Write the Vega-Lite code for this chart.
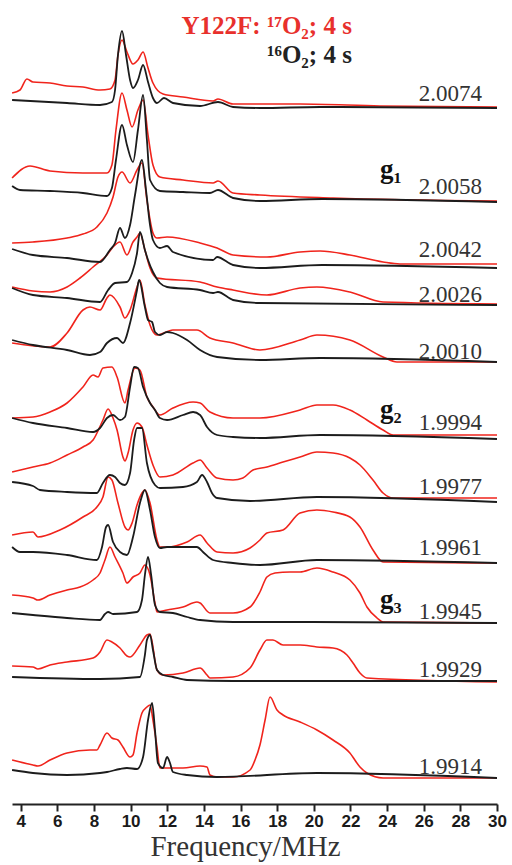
{
"$schema": "https://vega.github.io/schema/vega-lite/v6.json",
"width": 485, "height": 804,
"autosize": {"type": "none"},
"padding": {"left": 12, "top": 0, "right": 15, "bottom": 61},
"background": "white",
"config": {"view": {"stroke": null},
"axisX": {"grid": false, "domainColor": "#222", "domainWidth": 2, "tickColor": "#222", "tickWidth": 2, "tickSize": 7, "labelFont": "Liberation Sans", "labelFontSize": 17, "labelFontWeight": "bold", "labelColor": "#1a1a1a", "labelPadding": 2, "labelFlush": false, "labelOverlap": false, "labelBound": false, "titleFont": "Liberation Serif", "titleFontSize": 29, "titleFontWeight": "normal", "titleColor": "#333", "titlePadding": 3, "titleX": 233, "titleAnchor": "start", "titleAlign": "center"}},
"datasets": {
"red": [
{"s":"2.0074","x":3.53,"y":711},{"s":"2.0074","x":3.96,"y":714},{"s":"2.0074","x":4.34,"y":725},{"s":"2.0074","x":4.67,"y":722},{"s":"2.0074","x":5.6,"y":721},{"s":"2.0074","x":6.53,"y":718},{"s":"2.0074","x":7.4,"y":717},{"s":"2.0074","x":8.33,"y":714},{"s":"2.0074","x":8.87,"y":715},{"s":"2.0074","x":9.15,"y":724},{"s":"2.0074","x":9.31,"y":749},{"s":"2.0074","x":9.53,"y":764},{"s":"2.0074","x":9.8,"y":752},{"s":"2.0074","x":10.13,"y":740},{"s":"2.0074","x":10.4,"y":744},{"s":"2.0074","x":10.68,"y":752},{"s":"2.0074","x":10.95,"y":736},{"s":"2.0074","x":11.22,"y":721},{"s":"2.0074","x":11.77,"y":710},{"s":"2.0074","x":12.86,"y":707},{"s":"2.0074","x":14.5,"y":703},{"s":"2.0074","x":14.77,"y":705},{"s":"2.0074","x":15.59,"y":700},{"s":"2.0074","x":19.25,"y":700},{"s":"2.0074","x":23.61,"y":698},{"s":"2.0074","x":30,"y":697},
{"s":"2.0058","x":3.53,"y":626},{"s":"2.0058","x":4.51,"y":638},{"s":"2.0058","x":5.6,"y":633},{"s":"2.0058","x":7.4,"y":631},{"s":"2.0058","x":8.71,"y":631},{"s":"2.0058","x":8.98,"y":639},{"s":"2.0058","x":9.2,"y":674},{"s":"2.0058","x":9.53,"y":711},{"s":"2.0058","x":9.8,"y":694},{"s":"2.0058","x":10.08,"y":677},{"s":"2.0058","x":10.4,"y":694},{"s":"2.0058","x":10.68,"y":704},{"s":"2.0058","x":10.95,"y":669},{"s":"2.0058","x":11.22,"y":639},{"s":"2.0058","x":11.6,"y":627},{"s":"2.0058","x":12.86,"y":624},{"s":"2.0058","x":14.5,"y":621},{"s":"2.0058","x":14.77,"y":623},{"s":"2.0058","x":15.59,"y":611},{"s":"2.0058","x":17.06,"y":609},{"s":"2.0058","x":21.05,"y":606},{"s":"2.0058","x":30,"y":603},
{"s":"2.0042","x":3.53,"y":561},{"s":"2.0042","x":4.67,"y":562},{"s":"2.0042","x":6.53,"y":566},{"s":"2.0042","x":7.4,"y":570},{"s":"2.0042","x":8.16,"y":577},{"s":"2.0042","x":8.71,"y":591},{"s":"2.0042","x":9.04,"y":607},{"s":"2.0042","x":9.31,"y":627},{"s":"2.0042","x":9.53,"y":632},{"s":"2.0042","x":9.97,"y":621},{"s":"2.0042","x":10.35,"y":634},{"s":"2.0042","x":10.62,"y":641},{"s":"2.0042","x":10.89,"y":604},{"s":"2.0042","x":11.22,"y":571},{"s":"2.0042","x":11.44,"y":566},{"s":"2.0042","x":11.99,"y":567},{"s":"2.0042","x":13.79,"y":561},{"s":"2.0042","x":14.72,"y":556},{"s":"2.0042","x":15.59,"y":549},{"s":"2.0042","x":17.44,"y":547},{"s":"2.0042","x":19.25,"y":552},{"s":"2.0042","x":20.34,"y":553},{"s":"2.0042","x":21.97,"y":549},{"s":"2.0042","x":23.78,"y":542},{"s":"2.0042","x":24.7,"y":540},{"s":"2.0042","x":30,"y":540},
{"s":"2.0026","x":3.53,"y":517},{"s":"2.0026","x":4.67,"y":513},{"s":"2.0026","x":5.6,"y":512},{"s":"2.0026","x":6.53,"y":517},{"s":"2.0026","x":7.24,"y":526},{"s":"2.0026","x":7.95,"y":537},{"s":"2.0026","x":8.71,"y":549},{"s":"2.0026","x":9.04,"y":557},{"s":"2.0026","x":9.42,"y":562},{"s":"2.0026","x":9.8,"y":549},{"s":"2.0026","x":10.13,"y":562},{"s":"2.0026","x":10.35,"y":567},{"s":"2.0026","x":10.51,"y":571},{"s":"2.0026","x":10.78,"y":554},{"s":"2.0026","x":11.06,"y":536},{"s":"2.0026","x":11.44,"y":526},{"s":"2.0026","x":13.79,"y":522},{"s":"2.0026","x":14.72,"y":517},{"s":"2.0026","x":15.59,"y":514},{"s":"2.0026","x":17.44,"y":509},{"s":"2.0026","x":19.25,"y":516},{"s":"2.0026","x":20.17,"y":517},{"s":"2.0026","x":21.97,"y":512},{"s":"2.0026","x":23.78,"y":502},{"s":"2.0026","x":30,"y":500},
{"s":"2.0010","x":3.53,"y":461},{"s":"2.0010","x":5.6,"y":457},{"s":"2.0010","x":6.53,"y":471},{"s":"2.0010","x":7.4,"y":494},{"s":"2.0010","x":7.78,"y":497},{"s":"2.0010","x":8.33,"y":494},{"s":"2.0010","x":8.71,"y":506},{"s":"2.0010","x":8.87,"y":509},{"s":"2.0010","x":9.42,"y":497},{"s":"2.0010","x":9.69,"y":486},{"s":"2.0010","x":9.97,"y":494},{"s":"2.0010","x":10.35,"y":517},{"s":"2.0010","x":10.51,"y":524},{"s":"2.0010","x":10.78,"y":499},{"s":"2.0010","x":11.06,"y":479},{"s":"2.0010","x":11.44,"y":469},{"s":"2.0010","x":12.31,"y":474},{"s":"2.0010","x":13.62,"y":474},{"s":"2.0010","x":14.33,"y":466},{"s":"2.0010","x":15.59,"y":461},{"s":"2.0010","x":17.06,"y":454},{"s":"2.0010","x":19.25,"y":464},{"s":"2.0010","x":20.17,"y":469},{"s":"2.0010","x":21.97,"y":464},{"s":"2.0010","x":23.78,"y":447},{"s":"2.0010","x":24.54,"y":442},{"s":"2.0010","x":30,"y":442},
{"s":"1.9994","x":3.53,"y":386},{"s":"1.9994","x":4.67,"y":387},{"s":"1.9994","x":5.6,"y":392},{"s":"1.9994","x":6.53,"y":401},{"s":"1.9994","x":7.4,"y":417},{"s":"1.9994","x":7.95,"y":429},{"s":"1.9994","x":8.22,"y":427},{"s":"1.9994","x":8.49,"y":436},{"s":"1.9994","x":8.98,"y":437},{"s":"1.9994","x":9.26,"y":427},{"s":"1.9994","x":9.69,"y":401},{"s":"1.9994","x":9.86,"y":414},{"s":"1.9994","x":10.24,"y":436},{"s":"1.9994","x":10.51,"y":434},{"s":"1.9994","x":10.89,"y":407},{"s":"1.9994","x":11.22,"y":397},{"s":"1.9994","x":11.6,"y":389},{"s":"1.9994","x":12.31,"y":396},{"s":"1.9994","x":13.41,"y":402},{"s":"1.9994","x":13.79,"y":401},{"s":"1.9994","x":14.33,"y":392},{"s":"1.9994","x":15.59,"y":386},{"s":"1.9994","x":17.06,"y":386},{"s":"1.9994","x":19.25,"y":394},{"s":"1.9994","x":20.17,"y":399},{"s":"1.9994","x":21.05,"y":399},{"s":"1.9994","x":21.97,"y":394},{"s":"1.9994","x":22.9,"y":384},{"s":"1.9994","x":23.78,"y":374},{"s":"1.9994","x":24.33,"y":369},{"s":"1.9994","x":30,"y":369},
{"s":"1.9977","x":3.53,"y":332},{"s":"1.9977","x":4.67,"y":337},{"s":"1.9977","x":5.6,"y":341},{"s":"1.9977","x":6.53,"y":349},{"s":"1.9977","x":7.4,"y":357},{"s":"1.9977","x":7.95,"y":364},{"s":"1.9977","x":8.49,"y":384},{"s":"1.9977","x":8.77,"y":395},{"s":"1.9977","x":9.04,"y":386},{"s":"1.9977","x":9.26,"y":374},{"s":"1.9977","x":9.58,"y":347},{"s":"1.9977","x":9.69,"y":343},{"s":"1.9977","x":9.86,"y":351},{"s":"1.9977","x":10.13,"y":374},{"s":"1.9977","x":10.35,"y":381},{"s":"1.9977","x":10.62,"y":377},{"s":"1.9977","x":10.89,"y":359},{"s":"1.9977","x":11.22,"y":339},{"s":"1.9977","x":11.6,"y":327},{"s":"1.9977","x":12.31,"y":329},{"s":"1.9977","x":13.41,"y":341},{"s":"1.9977","x":13.79,"y":344},{"s":"1.9977","x":14.17,"y":336},{"s":"1.9977","x":14.72,"y":326},{"s":"1.9977","x":15.59,"y":324},{"s":"1.9977","x":16.13,"y":326},{"s":"1.9977","x":16.68,"y":334},{"s":"1.9977","x":17.44,"y":337},{"s":"1.9977","x":18.32,"y":342},{"s":"1.9977","x":19.25,"y":347},{"s":"1.9977","x":20.17,"y":352},{"s":"1.9977","x":21.05,"y":351},{"s":"1.9977","x":21.97,"y":346},{"s":"1.9977","x":22.52,"y":339},{"s":"1.9977","x":23.23,"y":324},{"s":"1.9977","x":23.78,"y":311},{"s":"1.9977","x":24.33,"y":306},{"s":"1.9977","x":30,"y":306},
{"s":"1.9961","x":3.53,"y":269},{"s":"1.9961","x":4.67,"y":272},{"s":"1.9961","x":4.94,"y":267},{"s":"1.9961","x":6.14,"y":274},{"s":"1.9961","x":7.4,"y":287},{"s":"1.9961","x":8.16,"y":297},{"s":"1.9961","x":8.49,"y":307},{"s":"1.9961","x":8.77,"y":327},{"s":"1.9961","x":8.98,"y":324},{"s":"1.9961","x":9.31,"y":301},{"s":"1.9961","x":9.69,"y":277},{"s":"1.9961","x":9.86,"y":274},{"s":"1.9961","x":10.08,"y":281},{"s":"1.9961","x":10.35,"y":299},{"s":"1.9961","x":10.62,"y":311},{"s":"1.9961","x":10.78,"y":314},{"s":"1.9961","x":11.06,"y":301},{"s":"1.9961","x":11.44,"y":264},{"s":"1.9961","x":11.6,"y":257},{"s":"1.9961","x":11.99,"y":257},{"s":"1.9961","x":13.08,"y":262},{"s":"1.9961","x":13.79,"y":269},{"s":"1.9961","x":14.17,"y":261},{"s":"1.9961","x":14.72,"y":252},{"s":"1.9961","x":15.59,"y":251},{"s":"1.9961","x":16.52,"y":256},{"s":"1.9961","x":17.06,"y":264},{"s":"1.9961","x":17.44,"y":271},{"s":"1.9961","x":18.32,"y":274},{"s":"1.9961","x":19.25,"y":291},{"s":"1.9961","x":20.17,"y":294},{"s":"1.9961","x":21.05,"y":292},{"s":"1.9961","x":21.97,"y":287},{"s":"1.9961","x":22.52,"y":277},{"s":"1.9961","x":23.23,"y":254},{"s":"1.9961","x":23.78,"y":242},{"s":"1.9961","x":30,"y":241},
{"s":"1.9945","x":3.53,"y":209},{"s":"1.9945","x":4.67,"y":206},{"s":"1.9945","x":4.94,"y":204},{"s":"1.9945","x":5.6,"y":209},{"s":"1.9945","x":6.53,"y":214},{"s":"1.9945","x":7.24,"y":217},{"s":"1.9945","x":7.95,"y":224},{"s":"1.9945","x":8.33,"y":231},{"s":"1.9945","x":8.6,"y":244},{"s":"1.9945","x":8.87,"y":257},{"s":"1.9945","x":9.15,"y":247},{"s":"1.9945","x":9.58,"y":231},{"s":"1.9945","x":9.8,"y":221},{"s":"1.9945","x":10.13,"y":227},{"s":"1.9945","x":10.51,"y":231},{"s":"1.9945","x":10.78,"y":239},{"s":"1.9945","x":11.06,"y":229},{"s":"1.9945","x":11.33,"y":201},{"s":"1.9945","x":11.44,"y":192},{"s":"1.9945","x":11.99,"y":194},{"s":"1.9945","x":12.86,"y":197},{"s":"1.9945","x":13.62,"y":202},{"s":"1.9945","x":13.79,"y":201},{"s":"1.9945","x":14.33,"y":191},{"s":"1.9945","x":15.59,"y":191},{"s":"1.9945","x":16.52,"y":197},{"s":"1.9945","x":17.06,"y":212},{"s":"1.9945","x":17.44,"y":227},{"s":"1.9945","x":17.88,"y":231},{"s":"1.9945","x":18.7,"y":232},{"s":"1.9945","x":19.25,"y":232},{"s":"1.9945","x":20.17,"y":236},{"s":"1.9945","x":21.05,"y":232},{"s":"1.9945","x":21.97,"y":224},{"s":"1.9945","x":22.52,"y":211},{"s":"1.9945","x":22.9,"y":197},{"s":"1.9945","x":23.45,"y":186},{"s":"1.9945","x":23.78,"y":182},{"s":"1.9945","x":30,"y":181},
{"s":"1.9929","x":3.53,"y":138},{"s":"1.9929","x":4.67,"y":137},{"s":"1.9929","x":4.94,"y":135},{"s":"1.9929","x":5.6,"y":139},{"s":"1.9929","x":6.53,"y":142},{"s":"1.9929","x":7.95,"y":146},{"s":"1.9929","x":8.33,"y":152},{"s":"1.9929","x":8.71,"y":164},{"s":"1.9929","x":8.98,"y":162},{"s":"1.9929","x":9.42,"y":156},{"s":"1.9929","x":9.8,"y":148},{"s":"1.9929","x":9.97,"y":147},{"s":"1.9929","x":10.51,"y":159},{"s":"1.9929","x":10.89,"y":169},{"s":"1.9929","x":11.06,"y":170},{"s":"1.9929","x":11.44,"y":134},{"s":"1.9929","x":11.77,"y":129},{"s":"1.9929","x":12.86,"y":131},{"s":"1.9929","x":13.79,"y":136},{"s":"1.9929","x":14.17,"y":129},{"s":"1.9929","x":14.33,"y":126},{"s":"1.9929","x":15.59,"y":127},{"s":"1.9929","x":16.52,"y":136},{"s":"1.9929","x":17.06,"y":154},{"s":"1.9929","x":17.44,"y":164},{"s":"1.9929","x":17.77,"y":164},{"s":"1.9929","x":18.32,"y":159},{"s":"1.9929","x":19.25,"y":159},{"s":"1.9929","x":20.17,"y":157},{"s":"1.9929","x":21.05,"y":156},{"s":"1.9929","x":21.81,"y":149},{"s":"1.9929","x":22.14,"y":141},{"s":"1.9929","x":22.52,"y":131},{"s":"1.9929","x":22.9,"y":126},{"s":"1.9929","x":30,"y":122},
{"s":"1.9914","x":3.53,"y":44},{"s":"1.9914","x":4.67,"y":39},{"s":"1.9914","x":4.94,"y":38},{"s":"1.9914","x":5.6,"y":44},{"s":"1.9914","x":6.53,"y":51},{"s":"1.9914","x":7.78,"y":54},{"s":"1.9914","x":8.16,"y":54},{"s":"1.9914","x":8.33,"y":59},{"s":"1.9914","x":8.71,"y":71},{"s":"1.9914","x":8.98,"y":66},{"s":"1.9914","x":9.31,"y":64},{"s":"1.9914","x":9.58,"y":57},{"s":"1.9914","x":9.97,"y":47},{"s":"1.9914","x":10.13,"y":49},{"s":"1.9914","x":10.35,"y":71},{"s":"1.9914","x":10.62,"y":91},{"s":"1.9914","x":10.89,"y":97},{"s":"1.9914","x":11.06,"y":99},{"s":"1.9914","x":11.22,"y":84},{"s":"1.9914","x":11.44,"y":57},{"s":"1.9914","x":11.6,"y":36},{"s":"1.9914","x":12.86,"y":36},{"s":"1.9914","x":13.79,"y":38},{"s":"1.9914","x":14.17,"y":37},{"s":"1.9914","x":14.33,"y":29},{"s":"1.9914","x":14.72,"y":27},{"s":"1.9914","x":15.59,"y":27},{"s":"1.9914","x":16.52,"y":34},{"s":"1.9914","x":16.79,"y":44},{"s":"1.9914","x":17.06,"y":59},{"s":"1.9914","x":17.34,"y":84},{"s":"1.9914","x":17.61,"y":107},{"s":"1.9914","x":17.99,"y":94},{"s":"1.9914","x":18.32,"y":89},{"s":"1.9914","x":19.25,"y":82},{"s":"1.9914","x":20.17,"y":74},{"s":"1.9914","x":21.05,"y":64},{"s":"1.9914","x":21.97,"y":51},{"s":"1.9914","x":22.52,"y":37},{"s":"1.9914","x":22.9,"y":31},{"s":"1.9914","x":23.78,"y":26},{"s":"1.9914","x":30,"y":26}
],
"black": [
{"s":"2.0074","x":3.53,"y":704},{"s":"2.0074","x":6.53,"y":701},{"s":"2.0074","x":8.33,"y":699},{"s":"2.0074","x":8.98,"y":702},{"s":"2.0074","x":9.15,"y":714},{"s":"2.0074","x":9.31,"y":749},{"s":"2.0074","x":9.53,"y":773},{"s":"2.0074","x":9.75,"y":749},{"s":"2.0074","x":9.97,"y":724},{"s":"2.0074","x":10.13,"y":716},{"s":"2.0074","x":10.4,"y":724},{"s":"2.0074","x":10.68,"y":739},{"s":"2.0074","x":10.95,"y":722},{"s":"2.0074","x":11.22,"y":706},{"s":"2.0074","x":11.44,"y":701},{"s":"2.0074","x":11.82,"y":706},{"s":"2.0074","x":12.31,"y":701},{"s":"2.0074","x":13.79,"y":698},{"s":"2.0074","x":14.77,"y":702},{"s":"2.0074","x":15.59,"y":697},{"s":"2.0074","x":17.06,"y":696},{"s":"2.0074","x":20.34,"y":697},{"s":"2.0074","x":30,"y":696},
{"s":"2.0058","x":3.53,"y":618},{"s":"2.0058","x":3.96,"y":614},{"s":"2.0058","x":5.6,"y":613},{"s":"2.0058","x":7.4,"y":611},{"s":"2.0058","x":8.71,"y":608},{"s":"2.0058","x":8.98,"y":616},{"s":"2.0058","x":9.2,"y":644},{"s":"2.0058","x":9.53,"y":679},{"s":"2.0058","x":9.8,"y":659},{"s":"2.0058","x":10.13,"y":642},{"s":"2.0058","x":10.4,"y":674},{"s":"2.0058","x":10.68,"y":709},{"s":"2.0058","x":10.89,"y":664},{"s":"2.0058","x":11.06,"y":624},{"s":"2.0058","x":11.6,"y":613},{"s":"2.0058","x":12.86,"y":612},{"s":"2.0058","x":14.33,"y":611},{"s":"2.0058","x":14.77,"y":614},{"s":"2.0058","x":15.59,"y":606},{"s":"2.0058","x":17.06,"y":603},{"s":"2.0058","x":20.45,"y":605},{"s":"2.0058","x":30,"y":602},
{"s":"2.0042","x":3.53,"y":555},{"s":"2.0042","x":4.67,"y":549},{"s":"2.0042","x":6.53,"y":546},{"s":"2.0042","x":8.33,"y":542},{"s":"2.0042","x":8.87,"y":554},{"s":"2.0042","x":9.15,"y":561},{"s":"2.0042","x":9.42,"y":576},{"s":"2.0042","x":9.69,"y":566},{"s":"2.0042","x":9.97,"y":579},{"s":"2.0042","x":10.24,"y":609},{"s":"2.0042","x":10.62,"y":644},{"s":"2.0042","x":10.84,"y":614},{"s":"2.0042","x":11.06,"y":579},{"s":"2.0042","x":11.22,"y":564},{"s":"2.0042","x":11.6,"y":556},{"s":"2.0042","x":11.99,"y":558},{"s":"2.0042","x":12.31,"y":552},{"s":"2.0042","x":14.5,"y":544},{"s":"2.0042","x":14.72,"y":547},{"s":"2.0042","x":15.59,"y":539},{"s":"2.0042","x":17.06,"y":536},{"s":"2.0042","x":20.45,"y":539},{"s":"2.0042","x":30,"y":536},
{"s":"2.0026","x":3.53,"y":516},{"s":"2.0026","x":4.67,"y":509},{"s":"2.0026","x":6.53,"y":506},{"s":"2.0026","x":8.33,"y":502},{"s":"2.0026","x":8.77,"y":514},{"s":"2.0026","x":9.15,"y":521},{"s":"2.0026","x":9.8,"y":522},{"s":"2.0026","x":10.08,"y":531},{"s":"2.0026","x":10.35,"y":551},{"s":"2.0026","x":10.51,"y":572},{"s":"2.0026","x":10.78,"y":554},{"s":"2.0026","x":10.95,"y":544},{"s":"2.0026","x":11.22,"y":532},{"s":"2.0026","x":11.6,"y":521},{"s":"2.0026","x":11.99,"y":517},{"s":"2.0026","x":13.79,"y":514},{"s":"2.0026","x":14.5,"y":511},{"s":"2.0026","x":14.77,"y":512},{"s":"2.0026","x":15.59,"y":504},{"s":"2.0026","x":17.06,"y":501},{"s":"2.0026","x":30,"y":499},
{"s":"2.0010","x":3.53,"y":464},{"s":"2.0010","x":4.67,"y":459},{"s":"2.0010","x":6.53,"y":454},{"s":"2.0010","x":7.78,"y":449},{"s":"2.0010","x":8.33,"y":452},{"s":"2.0010","x":8.71,"y":461},{"s":"2.0010","x":9.26,"y":466},{"s":"2.0010","x":9.58,"y":461},{"s":"2.0010","x":9.97,"y":481},{"s":"2.0010","x":10.35,"y":514},{"s":"2.0010","x":10.46,"y":524},{"s":"2.0010","x":10.78,"y":497},{"s":"2.0010","x":10.95,"y":484},{"s":"2.0010","x":11.17,"y":482},{"s":"2.0010","x":11.33,"y":472},{"s":"2.0010","x":11.6,"y":469},{"s":"2.0010","x":11.99,"y":472},{"s":"2.0010","x":12.31,"y":471},{"s":"2.0010","x":13.08,"y":464},{"s":"2.0010","x":13.79,"y":454},{"s":"2.0010","x":14.72,"y":447},{"s":"2.0010","x":17.06,"y":444},{"s":"2.0010","x":20.34,"y":446},{"s":"2.0010","x":30,"y":442},
{"s":"1.9994","x":3.53,"y":386},{"s":"1.9994","x":4.67,"y":381},{"s":"1.9994","x":6.53,"y":376},{"s":"1.9994","x":7.95,"y":372},{"s":"1.9994","x":8.33,"y":376},{"s":"1.9994","x":8.71,"y":386},{"s":"1.9994","x":9.04,"y":389},{"s":"1.9994","x":9.42,"y":384},{"s":"1.9994","x":9.69,"y":387},{"s":"1.9994","x":9.97,"y":417},{"s":"1.9994","x":10.19,"y":437},{"s":"1.9994","x":10.4,"y":436},{"s":"1.9994","x":10.68,"y":417},{"s":"1.9994","x":11.06,"y":401},{"s":"1.9994","x":11.33,"y":394},{"s":"1.9994","x":11.6,"y":386},{"s":"1.9994","x":11.99,"y":384},{"s":"1.9994","x":12.86,"y":389},{"s":"1.9994","x":13.41,"y":392},{"s":"1.9994","x":13.79,"y":389},{"s":"1.9994","x":14.17,"y":377},{"s":"1.9994","x":14.72,"y":369},{"s":"1.9994","x":15.59,"y":367},{"s":"1.9994","x":17.06,"y":366},{"s":"1.9994","x":20.34,"y":369},{"s":"1.9994","x":30,"y":365},
{"s":"1.9977","x":3.53,"y":322},{"s":"1.9977","x":4.67,"y":318},{"s":"1.9977","x":5.05,"y":314},{"s":"1.9977","x":6.53,"y":312},{"s":"1.9977","x":8.16,"y":311},{"s":"1.9977","x":8.49,"y":321},{"s":"1.9977","x":8.87,"y":329},{"s":"1.9977","x":9.15,"y":327},{"s":"1.9977","x":9.42,"y":321},{"s":"1.9977","x":9.69,"y":319},{"s":"1.9977","x":9.97,"y":331},{"s":"1.9977","x":10.19,"y":364},{"s":"1.9977","x":10.35,"y":376},{"s":"1.9977","x":10.62,"y":376},{"s":"1.9977","x":10.89,"y":341},{"s":"1.9977","x":11.33,"y":319},{"s":"1.9977","x":11.6,"y":316},{"s":"1.9977","x":12.86,"y":317},{"s":"1.9977","x":13.62,"y":322},{"s":"1.9977","x":13.9,"y":329},{"s":"1.9977","x":14.17,"y":322},{"s":"1.9977","x":14.44,"y":311},{"s":"1.9977","x":14.72,"y":306},{"s":"1.9977","x":16.52,"y":303},{"s":"1.9977","x":20.17,"y":307},{"s":"1.9977","x":30,"y":302},
{"s":"1.9961","x":3.53,"y":257},{"s":"1.9961","x":3.96,"y":252},{"s":"1.9961","x":4.67,"y":252},{"s":"1.9961","x":6.53,"y":249},{"s":"1.9961","x":8.16,"y":244},{"s":"1.9961","x":8.44,"y":257},{"s":"1.9961","x":8.66,"y":277},{"s":"1.9961","x":8.77,"y":279},{"s":"1.9961","x":9.04,"y":262},{"s":"1.9961","x":9.42,"y":252},{"s":"1.9961","x":9.8,"y":249},{"s":"1.9961","x":10.13,"y":267},{"s":"1.9961","x":10.51,"y":301},{"s":"1.9961","x":10.78,"y":314},{"s":"1.9961","x":11.06,"y":294},{"s":"1.9961","x":11.33,"y":267},{"s":"1.9961","x":11.6,"y":256},{"s":"1.9961","x":11.99,"y":257},{"s":"1.9961","x":13.62,"y":257},{"s":"1.9961","x":13.95,"y":252},{"s":"1.9961","x":14.5,"y":244},{"s":"1.9961","x":15.59,"y":241},{"s":"1.9961","x":17.06,"y":239},{"s":"1.9961","x":20.17,"y":244},{"s":"1.9961","x":30,"y":241},
{"s":"1.9945","x":3.53,"y":191},{"s":"1.9945","x":4.67,"y":189},{"s":"1.9945","x":6.53,"y":186},{"s":"1.9945","x":8.33,"y":184},{"s":"1.9945","x":8.6,"y":190},{"s":"1.9945","x":8.77,"y":192},{"s":"1.9945","x":9.04,"y":190},{"s":"1.9945","x":10.35,"y":192},{"s":"1.9945","x":10.62,"y":204},{"s":"1.9945","x":10.78,"y":229},{"s":"1.9945","x":10.95,"y":247},{"s":"1.9945","x":11.12,"y":229},{"s":"1.9945","x":11.33,"y":199},{"s":"1.9945","x":11.6,"y":192},{"s":"1.9945","x":12.31,"y":191},{"s":"1.9945","x":13.08,"y":187},{"s":"1.9945","x":13.79,"y":184},{"s":"1.9945","x":15.59,"y":182},{"s":"1.9945","x":19.96,"y":182},{"s":"1.9945","x":30,"y":181},
{"s":"1.9929","x":3.53,"y":127},{"s":"1.9929","x":8.33,"y":125},{"s":"1.9929","x":10.51,"y":127},{"s":"1.9929","x":10.78,"y":149},{"s":"1.9929","x":10.89,"y":164},{"s":"1.9929","x":11.06,"y":169},{"s":"1.9929","x":11.22,"y":154},{"s":"1.9929","x":11.44,"y":134},{"s":"1.9929","x":11.77,"y":129},{"s":"1.9929","x":12.31,"y":127},{"s":"1.9929","x":13.08,"y":124},{"s":"1.9929","x":15.59,"y":123},{"s":"1.9929","x":30,"y":123},
{"s":"1.9914","x":3.53,"y":34},{"s":"1.9914","x":4.67,"y":31},{"s":"1.9914","x":6.53,"y":29},{"s":"1.9914","x":8.33,"y":31},{"s":"1.9914","x":8.71,"y":32},{"s":"1.9914","x":9.42,"y":35},{"s":"1.9914","x":9.8,"y":36},{"s":"1.9914","x":10.35,"y":35},{"s":"1.9914","x":10.68,"y":47},{"s":"1.9914","x":10.95,"y":84},{"s":"1.9914","x":11.17,"y":101},{"s":"1.9914","x":11.33,"y":74},{"s":"1.9914","x":11.49,"y":41},{"s":"1.9914","x":11.77,"y":36},{"s":"1.9914","x":11.99,"y":47},{"s":"1.9914","x":12.15,"y":41},{"s":"1.9914","x":12.31,"y":32},{"s":"1.9914","x":13.08,"y":29},{"s":"1.9914","x":14.72,"y":27},{"s":"1.9914","x":20.17,"y":31},{"s":"1.9914","x":30,"y":26}
],
"labels": [
{"t":"2.0074","x":29.18,"y":710},{"t":"2.0058","x":29.18,"y":617},{"t":"2.0042","x":29.18,"y":554},{"t":"2.0026","x":29.18,"y":509},{"t":"2.0010","x":29.18,"y":452},{"t":"1.9994","x":29.18,"y":381},{"t":"1.9977","x":29.18,"y":317},{"t":"1.9961","x":29.18,"y":256},{"t":"1.9945","x":29.18,"y":192},{"t":"1.9929","x":29.18,"y":134},{"t":"1.9914","x":29.18,"y":37}
],
"glabels": [
{"t":"g₁","x":23.61,"y":634},{"t":"g₂","x":23.61,"y":394},{"t":"g₃","x":23.61,"y":204}
],
"titles": [
{"t":"Y122F: ¹⁷O₂; 4 s","x":22.08,"y":778,"c":"r"},{"t":"¹⁶O₂; 4 s","x":22.08,"y":749,"c":"k"}
]
},
"layer": [
{
"data": {"name": "red"},
"mark": {"type": "line", "color": "#f0241c", "strokeWidth": 1.6, "interpolate": "monotone"},
"encoding": {
"x": {"field": "x", "type": "quantitative", "scale": {"domain": [3.525, 30], "nice": false, "zero": false},
"axis": {"values": [4,6,8,10,12,14,16,18,20,22,24,26,28,30], "labelOverlap": false, "title": "Frequency/MHz"}},
"y": {"field": "y", "type": "quantitative", "scale": {"domain": [0, 804], "nice": false, "zero": false}, "axis": null},
"detail": {"field": "s"}
}
},
{
"data": {"name": "black"},
"mark": {"type": "line", "color": "#1c1c1c", "strokeWidth": 1.8, "interpolate": "monotone"},
"encoding": {
"x": {"field": "x", "type": "quantitative", "axis": {"values": [4,6,8,10,12,14,16,18,20,22,24,26,28,30], "labelOverlap": false, "title": "Frequency/MHz"}},
"y": {"field": "y", "type": "quantitative"},
"detail": {"field": "s"}
}
},
{
"data": {"name": "labels"},
"mark": {"type": "text", "align": "right", "baseline": "middle", "font": "Liberation Serif", "fontSize": 23, "color": "#333"},
"encoding": {
"x": {"field": "x", "type": "quantitative", "axis": {"values": [4,6,8,10,12,14,16,18,20,22,24,26,28,30], "labelOverlap": false, "title": "Frequency/MHz"}},
"y": {"field": "y", "type": "quantitative"},
"text": {"field": "t"}
}
},
{
"data": {"name": "glabels"},
"mark": {"type": "text", "align": "left", "baseline": "middle", "font": "Liberation Serif", "fontSize": 27, "fontWeight": "bold", "color": "#111"},
"encoding": {
"x": {"field": "x", "type": "quantitative", "axis": {"values": [4,6,8,10,12,14,16,18,20,22,24,26,28,30], "labelOverlap": false, "title": "Frequency/MHz"}},
"y": {"field": "y", "type": "quantitative"},
"text": {"field": "t"}
}
},
{
"data": {"name": "titles"},
"mark": {"type": "text", "align": "right", "baseline": "middle", "font": "Liberation Serif", "fontSize": 25, "fontWeight": "bold"},
"encoding": {
"x": {"field": "x", "type": "quantitative", "axis": {"values": [4,6,8,10,12,14,16,18,20,22,24,26,28,30], "labelOverlap": false, "title": "Frequency/MHz"}},
"y": {"field": "y", "type": "quantitative"},
"text": {"field": "t"},
"color": {"field": "c", "type": "nominal", "scale": {"domain": ["r", "k"], "range": ["#e8302c", "#222222"]}, "legend": null}
}
}
]
}
